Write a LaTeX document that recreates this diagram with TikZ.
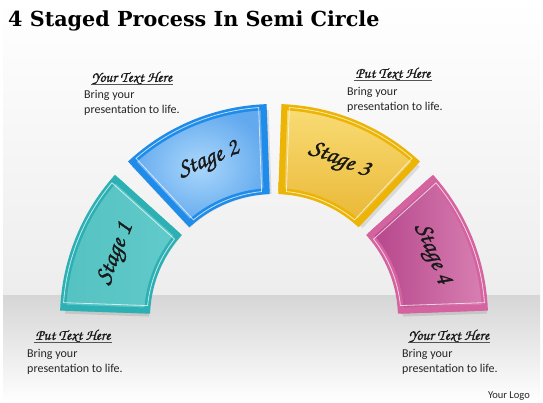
\documentclass[tikz,border=0pt]{standalone}
\usepackage{fontspec}
\setmainfont{Carlito}
\newfontfamily\titlefont{DejaVu Serif}
\newfontfamily\callig{TeX Gyre Chorus}[FakeBold=1.2]
\newfontfamily\calligh{TeX Gyre Chorus}[FakeBold=0.8]
\definecolor{bgtop}{HTML}{EDEDED}
\definecolor{band}{HTML}{D6D6D6}
\definecolor{bA}{HTML}{2DB0B3}
\definecolor{bB}{HTML}{1E8CE8}
\definecolor{bC}{HTML}{ECB405}
\definecolor{bD}{HTML}{D463A0}
\definecolor{fAl}{HTML}{55C2C2}
\definecolor{fAm}{HTML}{A0E6E2}
\definecolor{fAr}{HTML}{62CACA}
\definecolor{fBi}{HTML}{AAD7FB}
\definecolor{fBo}{HTML}{62A9EE}
\definecolor{fCt}{HTML}{F9DC75}
\definecolor{fCb}{HTML}{E9B735}
\definecolor{fDl}{HTML}{B5448A}
\definecolor{fDm}{HTML}{E8AED0}
\definecolor{fDr}{HTML}{D880B2}
\definecolor{ultxt}{HTML}{555555}
\newcommand\sectorpath[5]{({#1+deg(#5/#3)}:#3) arc[start angle={#1+deg(#5/#3)}, end angle={#2-deg(#5/#3)}, radius=#3] -- ({#2-deg(#5/#4)}:#4) arc[start angle={#2-deg(#5/#4)}, end angle={#1+deg(#5/#4)}, radius=#4] -- cycle}
\tikzset{
  rim/.style={line width=6, line join=miter},
  gleam/.style={draw=white, opacity=.7, line width=.8, line join=miter},
  shadowfill/.style={fill=black, opacity=.10},
  stagetxt/.style={font=\callig\fontsize{25}{25}\selectfont, text=black!90, inner sep=0},
  headtxt/.style={font=\calligh\fontsize{15}{15}\selectfont, text=black!90, inner sep=1pt},
  bodytxt/.style={font=\fontsize{12}{15.5}\selectfont, text=black!85, align=left, inner sep=0, anchor=north west},
  ul/.style={draw=ultxt, line width=1.2}
}
\begin{document}
\begin{tikzpicture}[x=1pt,y=1pt]
\useasboundingbox (0,0) rectangle (543,403);
\fill[white] (0,0) rectangle (543,403);
\shade[top color=white, bottom color=bgtop] (3,107) rectangle (540,403);
\shade[top color=band, bottom color=white] (3,0) rectangle (540,107);
% title
\node[anchor=base west, inner sep=0, font=\titlefont\bfseries\fontsize{20.7}{20.7}\selectfont] (title) at (8,376) {4 Staged Process In Semi Circle};
\begin{scope}[shift={(274,85)}]
  % shadows
  \fill[shadowfill, shift={(2,-3)}] \sectorpath{138}{178}{211}{127}{0};
  \fill[shadowfill, shift={(2,-3)}] \sectorpath{92}{133}{211}{127}{0};
  \fill[shadowfill, shift={(2,-3)}] \sectorpath{47}{88}{211}{127}{0};
  \fill[shadowfill, shift={(2,-3)}] \sectorpath{2}{42}{211}{127}{0};
  % stage 1
  \shade[shading angle=-22, left color=fAl, middle color=fAm, right color=fAr] \sectorpath{138}{178}{211}{127}{0};
  \draw[rim, draw=bA] \sectorpath{138}{178}{211}{127}{3};
  \draw[gleam] \sectorpath{138}{178}{211}{127}{8};
  % stage 2
  \shade[inner color=fBi, outer color=fBo] \sectorpath{92}{133}{211}{127}{0};
  \draw[rim, draw=bB] \sectorpath{92}{133}{211}{127}{3};
  \draw[gleam] \sectorpath{92}{133}{211}{127}{8};
  % stage 3
  \shade[top color=fCt, bottom color=fCb] \sectorpath{47}{88}{211}{127}{0};
  \draw[rim, draw=bC] \sectorpath{47}{88}{211}{127}{3};
  \draw[gleam] \sectorpath{47}{88}{211}{127}{8};
  % stage 4
  \shade[shading angle=22, left color=fDl, middle color=fDm, right color=fDr] \sectorpath{2}{42}{211}{127}{0};
  \draw[rim, draw=bD] \sectorpath{2}{42}{211}{127}{3};
  \draw[gleam] \sectorpath{2}{42}{211}{127}{8};
  % labels
  \node[stagetxt, rotate=68] (s1) at (158:170) {Stage 1};
  \node[stagetxt, rotate=22.5] (s2) at (112.5:170) {Stage 2};
  \node[stagetxt, rotate=-22.5] (s3) at (67.5:170) {Stage 3};
  \node[stagetxt, rotate=-68] (s4) at (22:170) {Stage 4};
\end{scope}
% text blocks
\node[headtxt] (h1) at (132,325) {Your Text Here};
\draw[ul] ([yshift=1pt]h1.south west) -- ([yshift=1pt]h1.south east);
\node[bodytxt] (t1) at (84,313) {Bring your\\presentation to life.};
\node[headtxt] (h2) at (393,329) {Put Text Here};
\draw[ul] ([yshift=1pt]h2.south west) -- ([yshift=1pt]h2.south east);
\node[bodytxt] (t2) at (347,316) {Bring your\\presentation to life.};
\node[headtxt] (h3) at (73,67) {Put Text Here};
\draw[ul] ([yshift=1pt]h3.south west) -- ([yshift=1pt]h3.south east);
\node[bodytxt] (t3) at (27,54) {Bring your\\presentation to life.};
\node[headtxt] (h4) at (449,67) {Your Text Here};
\draw[ul] ([yshift=1pt]h4.south west) -- ([yshift=1pt]h4.south east);
\node[bodytxt] (t4) at (402,54) {Bring your\\presentation to life.};
\node[anchor=base east, inner sep=0, font=\fontsize{10.5}{12}\selectfont, text=black!85] (logo) at (530,4) {Your Logo};
\end{tikzpicture}
\end{document}
